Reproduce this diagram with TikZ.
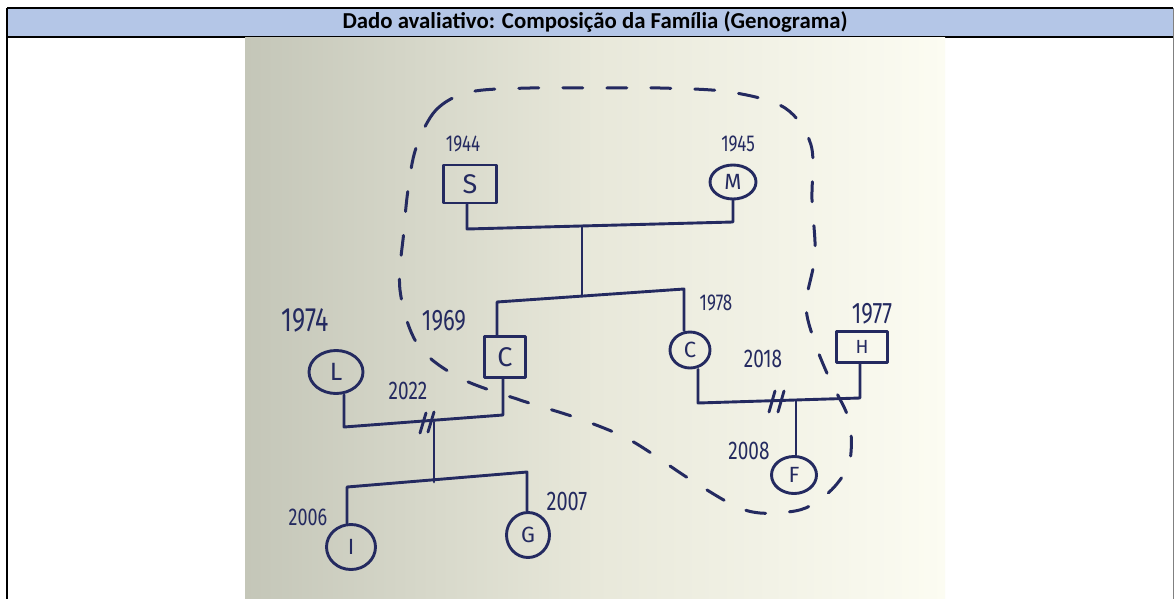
\documentclass[tikz,border=0pt]{standalone}
\usepackage{fontspec}
\usepackage{graphicx}
\setmainfont{Carlito}
\newfontfamily\hand{Fira Sans}
\usetikzlibrary{calc,shapes.geometric}
\definecolor{ink}{RGB}{36,42,96}
\definecolor{hdr}{RGB}{180,198,231}
\definecolor{paperL}{RGB}{196,198,184}
\definecolor{paperM}{RGB}{232,232,218}
\definecolor{paperR}{RGB}{252,252,242}
\newcommand\tallhw[1]{\scalebox{1}[1.35]{#1}}
\tikzset{
  inkline/.style={draw=ink, line width=2.9pt, line cap=round, line join=round},
  mperson/.style={inkline, rectangle, inner sep=0pt, text=ink},
  fperson/.style={inkline, ellipse, inner sep=0pt, text=ink},
  lfont/.style={font=\hand\fontsize{#1}{#1}\selectfont},
  yearlbl/.style={text=ink, inner sep=0pt, font=\hand\fontsize{#1}{#1}\selectfont},
  household/.style={draw=ink, line width=3pt, dash pattern=on 20pt off 24pt, line cap=round}
}
\begin{document}
\begin{tikzpicture}[x=1pt,y=-1pt]
\useasboundingbox (0,0) rectangle (1174,599);
\fill[white] (0,0) rectangle (1174,599);
% header
\fill[hdr] (7,8) rectangle (1173,37);
\draw[black, line width=2pt] (7,8) -- (1173,8);
\draw[black, line width=2pt] (7,37) -- (1173,37);
\draw[black, line width=2pt] (7,8) -- (7,599);
\draw[gray, line width=1pt] (1173,8) -- (1173,599);
\node (title) at (595,22) {\resizebox{505pt}{!}{\bfseries Dado avaliativo: Composição da Família (Genograma)}};
% photo background
\shade[left color=paperL, right color=paperR, middle color=paperM] (245,38) rectangle (945,599);
% household boundary
\draw[household] plot[smooth cycle, tension=0.55] coordinates {
 (416,148) (436,110) (470,92) (530,88) (600,88) (660,88) (730,92) (785,108) (811,145)
 (812,200) (815,255) (806,305) (815,343) (830,380) (849,420) (850,460) (836,485)
 (815,503) (795,511) (760,513) (733,505) (688,478) (630,440) (577,418) (520,400)
 (460,378) (418,345) (400,290) (404,230) (408,190)};
% persons
\node[mperson, minimum width=53pt, minimum height=38pt, lfont=27] (S) at (470,184) {S};
\node[fperson, minimum width=46pt, minimum height=34pt, lfont=22] (M) at (733,182) {M};
\node[mperson, minimum width=41pt, minimum height=41pt, lfont=27] (Cm) at (505,357) {C};
\node[fperson, minimum width=54pt, minimum height=43pt, lfont=25] (L) at (336,372) {L};
\node[fperson, minimum width=40pt, minimum height=36pt, lfont=22] (Cf) at (690,350) {C};
\node[mperson, minimum width=51pt, minimum height=31pt, lfont=19] (H) at (862,347) {H};
\node[fperson, minimum width=45pt, minimum height=37pt, lfont=22] (F) at (794,475) {F};
\node[fperson, minimum width=49pt, minimum height=45pt, lfont=22] (I) at (351,547) {I};
\node[fperson, minimum width=43pt, minimum height=45pt, lfont=22] (G) at (528,535) {G};
% years
\node[yearlbl=17] (yS) at (463,144) {\tallhw{1944}};
\node[yearlbl=17] (yM) at (738,144) {\tallhw{1945}};
\node[yearlbl=25] (yL) at (305,320) {\tallhw{1974}};
\node[yearlbl=22] (yCm) at (444,321) {\tallhw{1969}};
\node[yearlbl=17] (yCf) at (716,303) {\tallhw{1978}};
\node[yearlbl=22] (yH) at (872,314) {\tallhw{1977}};
\node[yearlbl=19] (mLC) at (408,391) {\tallhw{2022}};
\node[yearlbl=19] (mCH) at (763,359) {\tallhw{2018}};
\node[yearlbl=19] (yF) at (749,451) {\tallhw{2008}};
\node[yearlbl=18] (yI) at (308,517) {\tallhw{2006}};
\node[yearlbl=20] (yG) at (567,501) {\tallhw{2007}};
% connectors: S + M -> children
\coordinate (sm1) at (467,229);
\coordinate (sm2) at (733,222);
\coordinate (smc) at (582,226);
\coordinate (sib) at (582,296);
\coordinate (sibL) at (497,302);
\coordinate (sibR) at (684,289);
\draw[inkline] (S.south -| sm1) -- (sm1) -- (sm2) -- (M.south);
\draw[inkline] (smc) -- (sib);
\draw[inkline] (Cm.north -| sibL) -- (sibL) -- (sibR) -- (Cf.north -| sibR);
% L + C (divorced)
\coordinate (lc1) at (344,427);
\coordinate (lc2) at (503,415);
\coordinate (lcm) at (434,422);
\draw[inkline] (L.south -| lc1) -- (lc1) -- (lc2) -- (Cm.south -| lc2);
\draw[inkline] ($(lcm)+(-14,11)$) -- ($(lcm)+(-8,-9)$);
\draw[inkline] ($(lcm)+(-6,10)$) -- ($(lcm)+(0,-10)$);
\coordinate (ch) at (434,482);
\coordinate (chL) at (347,487);
\coordinate (chR) at (527,472);
\draw[inkline] (lcm) -- (ch);
\draw[inkline] (I.north -| chL) -- (chL) -- (chR) -- (G.north -| chR);
% C + H (divorced)
\coordinate (ch1) at (698,403);
\coordinate (ch2) at (860,398);
\coordinate (chm) at (796,401);
\draw[inkline] (Cf.south -| ch1) -- (ch1) -- (ch2) -- (H.south -| ch2);
\draw[inkline] ($(chm)+(-27,11)$) -- ($(chm)+(-21,-10)$);
\draw[inkline] ($(chm)+(-18,11)$) -- ($(chm)+(-12,-10)$);
\draw[inkline] (chm) -- (F.north -| chm);
\end{tikzpicture}
\end{document}
